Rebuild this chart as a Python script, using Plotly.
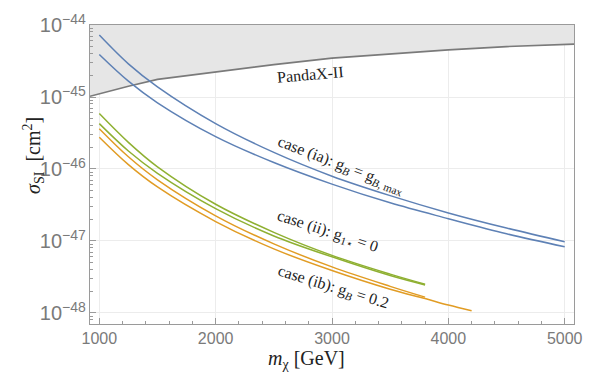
import plotly.graph_objects as go

# ---------------- data ----------------
mass_grid = [1000, 1250, 1500, 2000, 2500, 3000, 3500, 4000, 4500, 5000]

# PandaX-II exclusion limit (log10 sigma)
pandax_m = [920, 1000, 1250, 1500, 2000, 2500, 3000, 3500, 4000, 4500, 5000, 5080]
pandax_log = [-44.99, -44.955, -44.85, -44.755, -44.65, -44.55, -44.46, -44.40, -44.345, -44.30, -44.27, -44.265]
exclusion_top_log = -44.0

# case (ia): two blue curves
ia_upper_log = [-44.14, -44.54, -44.86, -45.37, -45.77, -46.10, -46.37, -46.61, -46.82, -47.01]
ia_lower_log = [-44.41, -44.78, -45.08, -45.55, -45.91, -46.21, -46.47, -46.69, -46.90, -47.08]

# case (ii): two green curves
ii_m = [1000, 1250, 1500, 2000, 2500, 3000, 3500, 3800]
ii_upper_log = [-45.23, -45.63, -45.97, -46.49, -46.88, -47.20, -47.46, -47.60]
ii_lower_log = [-45.37, -45.75, -46.06, -46.55, -46.93, -47.22, -47.48, -47.61]

# case (ib): two orange curves
ib1_m = [1000, 1250, 1500, 2000, 2500, 3000, 3500, 3800]
ib1_log = [-45.44, -45.83, -46.15, -46.65, -47.04, -47.36, -47.63, -47.78]
ib2_m = [1000, 1250, 1500, 2000, 2500, 3000, 3500, 3800, 4000, 4200]
ib2_log = [-45.56, -45.94, -46.25, -46.73, -47.11, -47.41, -47.67, -47.80, -47.89, -47.97]

x_range = [920, 5080]
y_range_log = [-48.153, -44.0]
x_ticks = [1000, 2000, 3000, 4000, 5000]

# ---------------- styles ----------------
BLUE = "#5E81B5"
GREEN = "#8FB032"
ORANGE = "#E19C24"
GRAY_LINE = "#7a7a7a"
GRAY_FILL = "#e6e6e6"
FRAME = "#9a9a9a"
TICK_FONT = dict(family="Liberation Sans, Arial", size=16, color="#7a7a7a")
SERIF = "Liberation Serif, Times New Roman, serif"


def p10(vals):
    return [10 ** v for v in vals]


fig = go.Figure()

# exclusion region (filled between the limit and the top of the plot)
fig.add_trace(go.Scatter(
    x=pandax_m + pandax_m[::-1],
    y=p10(pandax_log) + p10([exclusion_top_log] * len(pandax_m)),
    fill="toself", fillcolor=GRAY_FILL, line=dict(width=0),
    mode="lines", hoverinfo="skip", showlegend=False))
fig.add_trace(go.Scatter(
    x=pandax_m, y=p10(pandax_log), mode="lines",
    line=dict(color=GRAY_LINE, width=1.6), showlegend=False))

curves = [
    (mass_grid, ia_upper_log, BLUE),
    (mass_grid, ia_lower_log, BLUE),
    (ii_m, ii_upper_log, GREEN),
    (ii_m, ii_lower_log, GREEN),
    (ib1_m, ib1_log, ORANGE),
    (ib2_m, ib2_log, ORANGE),
]
for xs, ys, col in curves:
    fig.add_trace(go.Scatter(x=xs, y=p10(ys), mode="lines",
                             line=dict(color=col, width=1.5, shape="spline"),
                             showlegend=False))

ann_font = dict(family=SERIF, size=16, color="#222222")
annotations = [
    dict(x=2811, y=-44.69, text="PandaX-II", textangle=-5),
    dict(x=3080, y=-45.95, text="case (ia): g<sub><i>B</i></sub> = g<sub><i>B</i>, max</sub>", textangle=21),
    dict(x=2957, y=-46.87, text="case (ii): g<sub>1⋆</sub> = 0", textangle=18),
    dict(x=3009, y=-47.64, text="case (ib): g<sub><i>B</i></sub> = 0.2", textangle=17),
]
for a in annotations:
    fig.add_annotation(x=a["x"], y=a["y"], xref="x", yref="y", text=a["text"],
                       textangle=a["textangle"], showarrow=False, font=ann_font)

# axis titles as annotations (placed like the reference)
title_font = dict(family=SERIF, size=20, color="#222222")
fig.add_annotation(x=0.448, y=-0.118, xref="paper", yref="paper",
                   xanchor="center", yanchor="middle",
                   text="<i>m</i><sub>χ</sub> [GeV]", showarrow=False, font=title_font)
fig.add_annotation(x=-0.116, y=0.565, xref="paper", yref="paper", textangle=-90,
                   xanchor="center", yanchor="middle",
                   text="<i>σ</i><sub>SI</sub>&nbsp;&nbsp;[cm<sup>2</sup>]", showarrow=False, font=title_font)

fig.update_xaxes(
    range=x_range, tickvals=x_ticks, ticks="inside", ticklen=6, tickcolor=FRAME,
    showline=True, linecolor=FRAME, linewidth=1, mirror=True,
    showgrid=True, gridcolor="#ececec", gridwidth=1, zeroline=False,
    tickfont=TICK_FONT, automargin=False,
    minor=dict(dtick=200, ticks="inside", ticklen=3, tickcolor=FRAME, showgrid=False),
)
fig.update_yaxes(
    type="log", range=y_range_log, dtick=1, exponentformat="power",
    ticks="inside", ticklen=6, tickcolor=FRAME,
    showline=True, linecolor=FRAME, linewidth=1, mirror=True,
    showgrid=True, gridcolor="#ececec", gridwidth=1, zeroline=False,
    tickfont=TICK_FONT, automargin=False,
    minor=dict(dtick="D1", ticks="inside", ticklen=3, tickcolor=FRAME, showgrid=False),
)

fig.update_layout(
    width=600, height=387,
    margin=dict(l=90, r=26, t=25, b=63, autoexpand=False),
    plot_bgcolor="white", paper_bgcolor="white",
    showlegend=False,
)

fig.write_html("out.html", config={"displayModeBar": False},
               post_script="document.body.style.margin='0';document.body.style.padding='0';")
